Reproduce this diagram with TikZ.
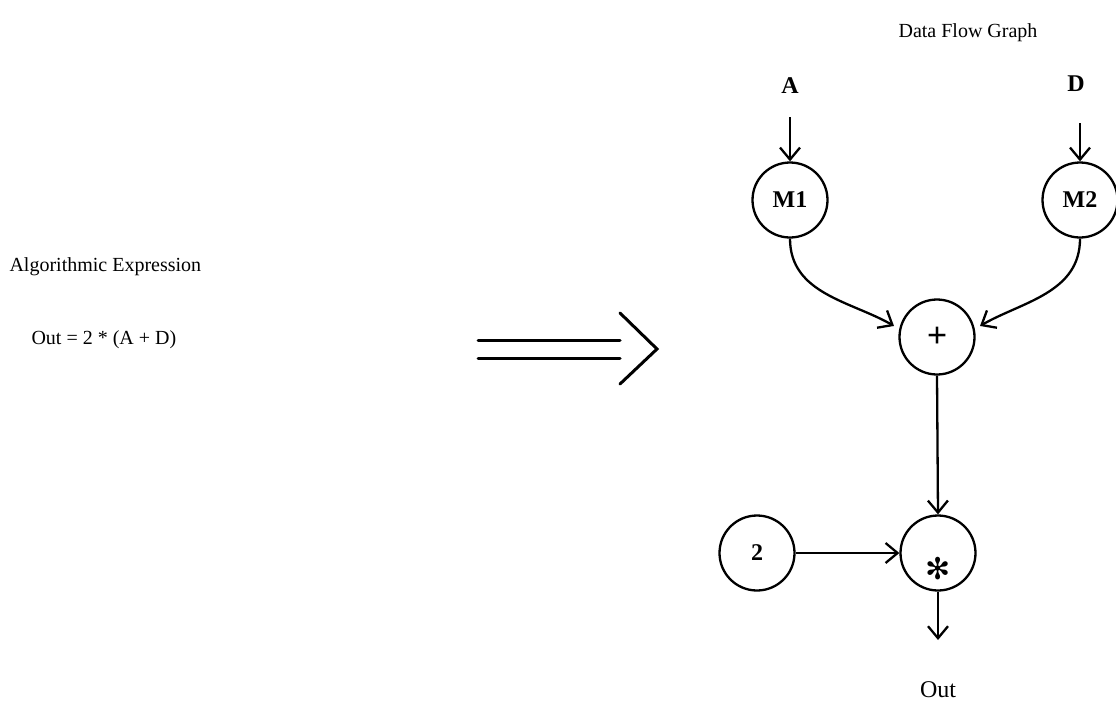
\documentclass[tikz,border=0pt]{standalone}
\usepackage{fontspec}
\setmainfont{Liberation Serif}
\newfontfamily\symfont{DejaVu Sans}
\usetikzlibrary{arrows.meta}
\begin{document}
\begin{tikzpicture}[x=1pt,y=-1pt,
  op/.style={circle,draw,line width=2.3pt,minimum size=75pt,inner sep=0pt,font=\fontsize{24}{28}\selectfont\bfseries},
  lbl/.style={font=\fontsize{20}{24}\selectfont},
  inlbl/.style={font=\fontsize{24}{28}\selectfont\bfseries},
  flow/.style={line width=2.3pt,-{Straight Barb[length=12pt,width=20pt,line width=2.3pt]}},
  bigarrow/.style={line width=3pt,line cap=round,line join=miter}]
\useasboundingbox (0,0) rectangle (1116,702);

% left side: the expression
\node[lbl,anchor=west] (title) at (6,267) {Algorithmic Expression};
\node[lbl,anchor=west] (expr) at (28,340) {Out = 2 * (A + D)};

% transformation arrow
\draw[bigarrow] (478,340) -- (620,340);
\draw[bigarrow] (478,358) -- (620,358);
\draw[bigarrow] (620,313) -- (657,349) -- (620,384);

% right side: the data flow graph
\node[lbl] (dfg) at (968,33) {Data Flow Graph};
\node[inlbl] (la) at (790,86) {A};
\node[inlbl] (ld) at (1076,84) {D};
\coordinate (ina) at (790,117);
\coordinate (ind) at (1080,123);

\node[op] (m1) at (790,200) {M1};
\node[op] (m2) at (1080,200) {M2};
\node[op,font=\fontsize{36}{36}\selectfont\bfseries] (plus) at (937,337) {+};
\node[op] (two) at (757,553) {2};
\node[op] (mul) at (938,553) {};
\node[font=\fontsize{30}{30}\symfont] (star) at (938,569) {✻};
\node[lbl,font=\fontsize{24}{28}\selectfont] (out) at (938,690) {Out};
\coordinate (outend) at (938,640);

\draw[flow] (ina) -- (m1.north);
\draw[flow] (ind) -- (m2.north);
\draw[flow,shorten >=6pt] (m1.south) to[out=-90,in=150] (plus.168);
\draw[flow,shorten >=6pt] (m2.south) to[out=-90,in=30] (plus.12);
\draw[flow] (plus.south) -- (mul.north);
\draw[flow] (two.east) -- (mul.west);
\draw[flow] (mul.south) -- (outend);
\end{tikzpicture}
\end{document}
